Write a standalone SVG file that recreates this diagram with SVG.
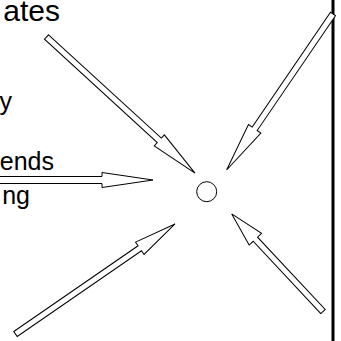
<svg xmlns="http://www.w3.org/2000/svg" width="341" height="341" viewBox="0 0 341 341">
<style>
.lbl{font-family:"Liberation Sans",Arial,sans-serif;font-size:25px;fill:#000;text-anchor:end}
.arr{fill:#fff;stroke:#000;stroke-width:1;stroke-linejoin:miter}
</style>
<rect width="341" height="341" fill="#fff"/>
<g id="labels">
<text class="lbl" x="60" y="21" style="font-size:30px">ates</text>
<text class="lbl" x="12" y="110">y</text>
<text class="lbl" x="54" y="170">ends</text>
<text class="lbl" x="30" y="204">ng</text>
</g>
<g id="wall"><line x1="333" y1="0" x2="333" y2="341" stroke="#000" stroke-width="3"/></g>
<g id="connectors">
<polygon class="arr" points="-5,176.5 102,176.5 102,172.5 153,180 102,187.5 102,183.5 -5,183.5"/>
<g transform="translate(46.5,37) rotate(42.5)"><polygon class="arr" points="0,-3 153,-3 153,-7.5 201.4,0 153,7.5 153,3 0,3"/></g>
<g transform="translate(333,14) rotate(124.3)"><polygon class="arr" points="0,-3 139,-3 139,-7.5 188.8,0 139,7.5 139,3 0,3"/></g>
<g transform="translate(15.5,334) rotate(-34.6)"><polygon class="arr" points="0,-3 151,-3 151,-7.5 193.8,0 151,7.5 151,3 0,3"/></g>
<g transform="translate(323,311.5) rotate(-133.1)"><polygon class="arr" points="0,-3 99,-3 99,-8.5 133.6,0 99,8.5 99,3 0,3"/></g>
</g>
<g id="node"><circle cx="206.7" cy="191.7" r="10" fill="#fff" stroke="#000" stroke-width="1"/></g>
</svg>
